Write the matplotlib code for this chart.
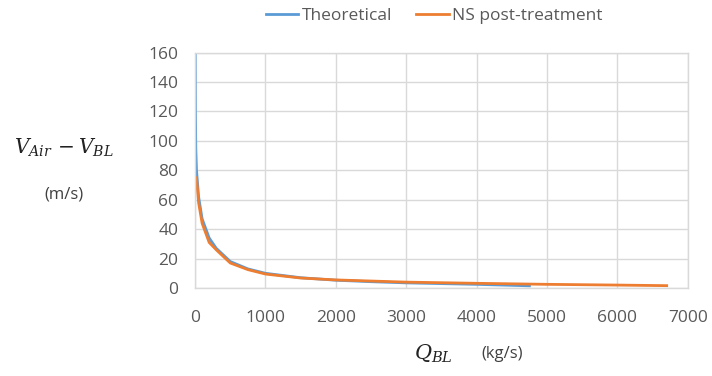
import matplotlib
matplotlib.use("Agg")
import matplotlib.pyplot as plt

# Data
theo_q = [2, 5, 10, 20, 50, 100, 200, 300, 500, 750, 1000, 1500, 2000, 2500, 3000, 3500, 4000, 4750]
theo_v = [160, 120, 95, 80, 62, 47, 34, 27, 18, 13, 10, 7, 5.3, 4.3, 3.5, 3.0, 2.5, 1.5]
ns_q = [20, 50, 100, 200, 300, 500, 750, 1000, 1500, 2000, 3000, 4000, 5000, 6000, 6700]
ns_v = [75, 58, 44, 31, 26, 17, 12.5, 9.5, 6.8, 5.5, 4.0, 3.2, 2.5, 2.0, 1.6]
x_ticks = [0, 1000, 2000, 3000, 4000, 5000, 6000, 7000]
y_ticks = [0, 20, 40, 60, 80, 100, 120, 140, 160]

plt.rcParams['font.family'] = ['Open Sans', 'DejaVu Sans']
plt.rcParams['mathtext.fontset'] = 'dejavuserif'

fig = plt.figure(figsize=(7.12, 3.76), dpi=100)
ax = fig.add_axes([0.274, 0.234, 0.692, 0.626])

blue = '#5B9BD5'
orange = '#ED7D31'
ax.plot(theo_q, theo_v, color=blue, lw=2, label='Theoretical')
ax.plot(ns_q, ns_v, color=orange, lw=2, label='NS post-treatment')

ax.set_xlim(0, 7000)
ax.set_ylim(0, 160)
ax.set_xticks(x_ticks)
ax.set_yticks(y_ticks)
ax.grid(True, color='#D9D9D9', lw=1)
ax.set_axisbelow(True)
for s in ax.spines.values():
    s.set_color('#D9D9D9')
    s.set_linewidth(1)
ax.tick_params(length=0, labelsize=12.5, colors='#595959', pad=12)
ax.tick_params(axis='x', pad=16)

fig.text(0.089, 0.606, r'$V_{Air}\,-V_{BL}$', fontsize=14.5, ha='center', va='center', color='#222222')
fig.text(0.09, 0.483, '(m/s)', fontsize=12, ha='center', va='center', color='#404040')
fig.text(0.608, 0.058, r'$Q_{BL}$', fontsize=15, ha='center', va='center', color='#222222')
fig.text(0.705, 0.058, '(kg/s)', fontsize=12, ha='center', va='center', color='#404040')

leg = fig.legend(loc='center', bbox_to_anchor=(0.61, 0.958), ncol=2, frameon=False,
                 fontsize=12.5, handlelength=1.85, handletextpad=0.2, columnspacing=1.4)
for t in leg.get_texts():
    t.set_color('#595959')

fig.savefig('out.png', dpi=100)
